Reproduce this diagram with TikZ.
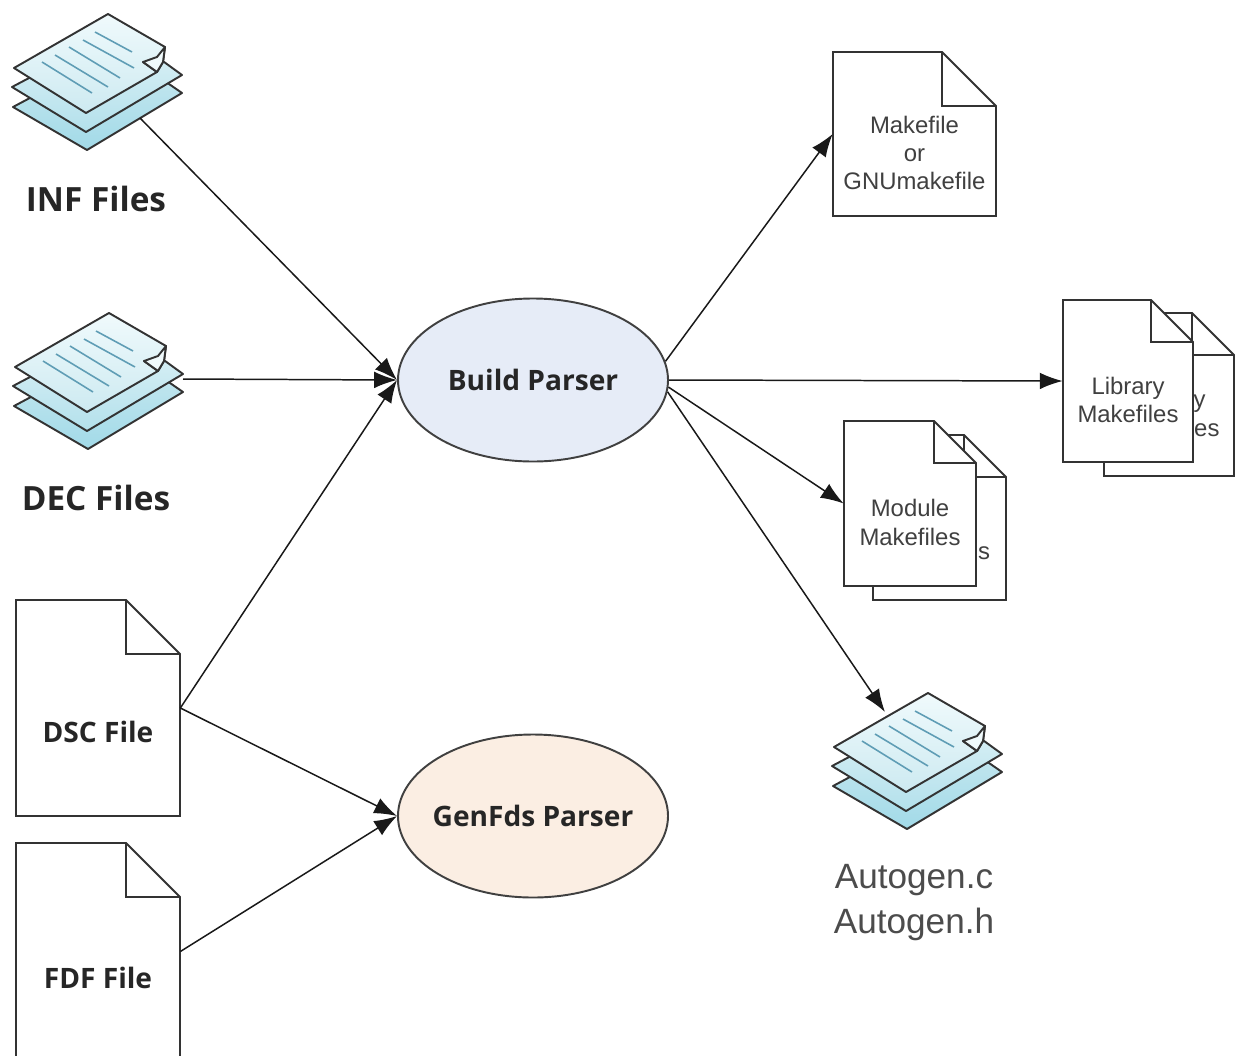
\documentclass[tikz,border=0pt]{standalone}
\usepackage{fontspec}
\setmainfont{Liberation Sans}
\newfontfamily\headfont{Open Sans}
\usetikzlibrary{shapes.geometric,arrows.meta}
\definecolor{buildFill}{HTML}{E6ECF7}
\definecolor{genfdsFill}{HTML}{FBEEE3}
\definecolor{lineGrey}{HTML}{333333}
\definecolor{sheetTop}{HTML}{F0FAFC}
\definecolor{sheetMid}{HTML}{CDEAF1}
\definecolor{sheetLow}{HTML}{A2DAE8}
\definecolor{sheetText}{HTML}{5F9DB5}
\newcommand{\pxunit}{*0.02cm}
\tikzset{
  parserDecorate/.style={shape=ellipse,draw=black!75,line width=1.1pt,minimum width=270\pxunit,minimum height=163\pxunit,inner sep=-8pt},
  lineDecorate/.style={-{Latex[length=13pt,width=9.5pt]},line width=0.85pt,draw=black!90},
  sheetDecorate/.style={draw=lineGrey,line width=1.1pt,line join=round},
  pageDecorate/.style={draw=lineGrey,line width=1.1pt,fill=white,line join=miter},
  pageNode/.style={shape=rectangle,inner sep=0pt},
  headText/.style={font=\headfont\bfseries\fontsize{19}{22}\selectfont,text=black!85,align=center},
  fileText/.style={font=\headfont\bfseries\fontsize{16}{20}\selectfont,text=black!85,align=center},
  smallText/.style={font=\fontsize{13.6}{16}\selectfont,text=black!75,align=center},
  bigText/.style={font=\fontsize{20}{25.8}\selectfont,text=black!70,align=center},
  stackicon/.pic={
    \path[sheetDecorate,top color=sheetMid,bottom color=sheetLow]
      (13,107) -- (87,150) -- (182,93) -- (120,50) -- cycle;
    \path[sheetDecorate,top color=sheetTop!60!sheetMid,bottom color=sheetLow!60!sheetMid]
      (12,87) -- (86,132) -- (182,75) -- (120,30) -- cycle;
    \path[sheetDecorate,top color=sheetTop,bottom color=sheetMid]
      (14,68) -- (108,14) -- (165,47) -- (163,62) -- (157,72) -- (143,62)
      -- (157,72) -- (86,113) -- cycle;
    \path[sheetDecorate,fill=sheetTop] (143,62) -- (157,57) -- (165,47) -- (163,62) -- (157,72) -- cycle;
    \foreach \xa/\ya/\xb/\yb in {95/32/132/52, 83/40/134/68, 69/47/120/78, 55/55/108/87, 42/62/92/93}
      \draw[sheetText,line width=0.9pt] (\xa,\ya) -- (\xb,\yb);
    \coordinate (-se) at (140,118);
    \coordinate (-east) at (182,80);
    \coordinate (-north) at (65,33);
  }
}
\begin{document}
\begin{tikzpicture}[x=0.02cm,y=-0.02cm]
\useasboundingbox (0,0) rectangle (1236,1055);
%% stacks of sheets
\foreach \stackname/\x/\y in {inf/0/0, dec/1/299, autogen/820/679}
{
  \pic (\stackname) at (\x,\y) {stackicon};
}
%% pages: name, left, top, right, bottom, fold, text shift, text
\foreach \pagename/\xa/\ya/\xb/\yb/\fold/\shift/\pagetext/\textstyle in {
  dsc/16/600/180/816/54/24/{DSC File}/fileText,
  fdf/16/843/180/1060/54/26/{FDF File}/fileText,
  makefile/833/52/996/216/54/19/{Makefile\\or\\GNUmakefile}/smallText,
  libraryback/1104/313/1234/476/42/19/{Library\\Makefiles}/smallText,
  library/1063/300/1193/462/42/19/{Library\\Makefiles}/smallText,
  moduleback/873/435/1006/600/42/19/{Module\kern5pt\\Makefiles}/smallText,
  module/844/421/976/586/42/19/{Module\\Makefiles}/smallText}
{
  \draw[pageDecorate] (\xa,\ya) -- (\xb-\fold,\ya) -- (\xb,\ya+\fold) -- (\xb,\yb) -- (\xa,\yb) -- cycle;
  \draw[pageDecorate,fill=none] (\xb-\fold,\ya) -- (\xb-\fold,\ya+\fold) -- (\xb,\ya+\fold);
  \coordinate (\pagename c) at ({(\xa+\xb)/2},{(\ya+\yb)/2});
  \node (\pagename) at (\pagename c) [pageNode,minimum width={(\xb-\xa)*0.02cm},minimum height={(\yb-\ya)*0.02cm}] {};
  \node (\pagename text) at ([yshift=-\shift*0.02cm]\pagename c) [\textstyle] {\pagetext};
}
%% parsers
\node (build) at (533,380) [parserDecorate,fill=buildFill,fileText] {Build Parser};
\node (genfds) at (533,816) [parserDecorate,fill=genfdsFill,fileText] {GenFds Parser};
%% captions
\node (inftext) at (96,199) [headText] {INF Files};
\node (dectext) at (96,498) [headText] {DEC Files};
\node (autogentext) at (914,900) [bigText,yshift=-0.05cm] {Autogen.c\\Autogen.h};
%% edges or lines
\path
\foreach \startnode/\endnode in {
  inf-se/build.west, dec-east/build.west, dsc.east/build.west, dsc.east/genfds.west,
  fdf.east/genfds.west, build.8/makefile.west, build.east/library.west,
  build.-3/module.west, build.-5/autogen-north}
{
  (\startnode) edge[lineDecorate] (\endnode)
};
\end{tikzpicture}
\end{document}
